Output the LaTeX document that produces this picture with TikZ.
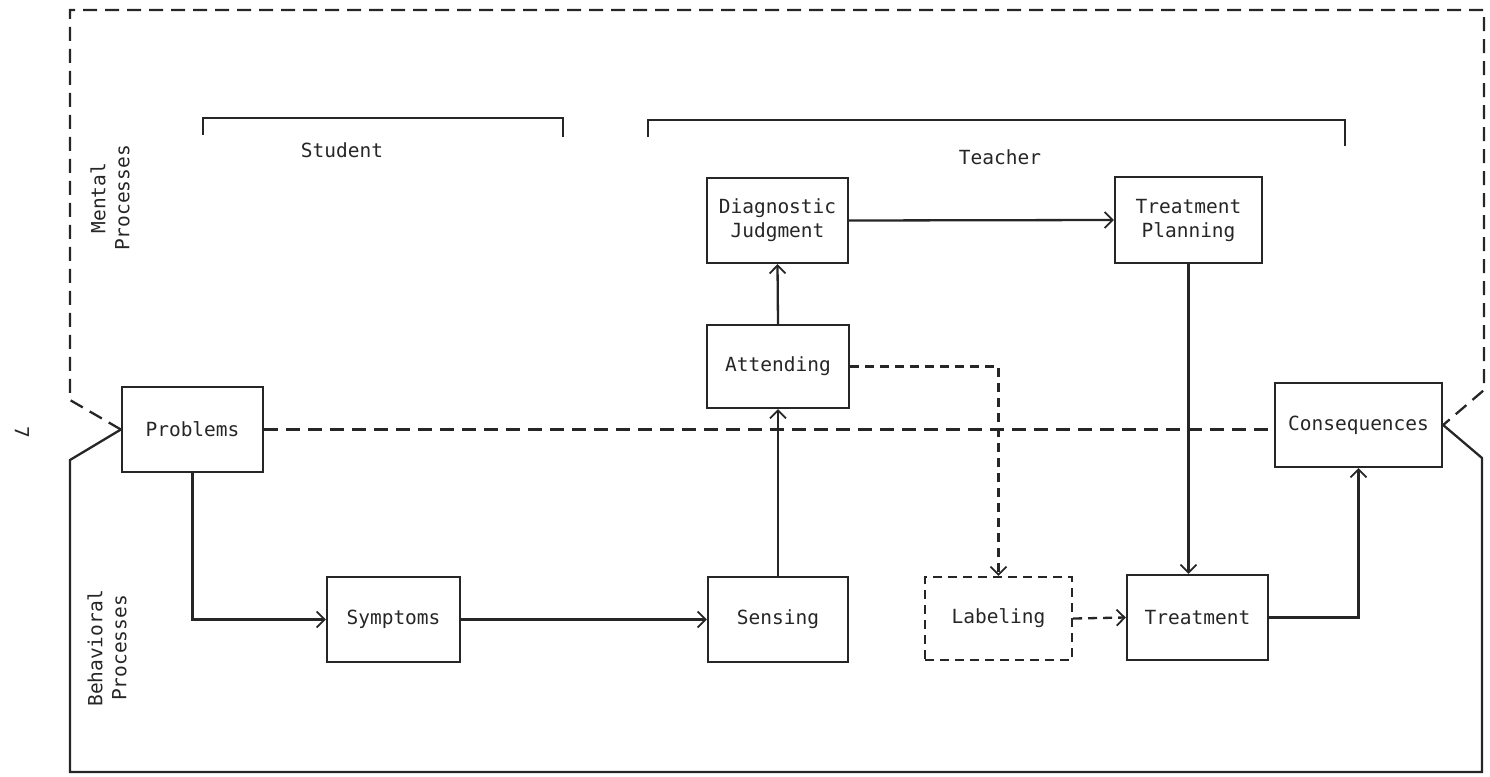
\documentclass[tikz,border=0pt]{standalone}
\usepackage{fontspec}
\setmonofont{DejaVu Sans Mono}
\usetikzlibrary{arrows.meta}
\definecolor{ink}{HTML}{262626}
\tikzset{
  every node/.style={font=\ttfamily\fontsize{19.5}{24}\selectfont, text=ink},
  ln/.style={draw=ink, line width=2.3pt},
  dsh/.style={ln, dash pattern=on 14pt off 8pt},
  dshs/.style={ln, dash pattern=on 9pt off 6pt},
  arr/.style={-{Straight Barb[length=8pt,width=16pt,line width=1.8pt]}},
  box/.style={ln, rectangle, inner sep=0pt, align=center},
  dbox/.style={box, dshs},
  lab/.style={align=center}
}
\begin{document}
\begin{tikzpicture}[x=1pt, y=-1pt]
\useasboundingbox (0,0) rectangle (1490,776);
% boxes
\node[box, minimum width=141pt, minimum height=85pt] (P) at (192.5,429.5) {Problems};
\node[box, minimum width=167pt, minimum height=84pt] (C) at (1358.5,425) {Consequences};
\node[box, minimum width=141pt, minimum height=85pt] (DJ) at (777.5,220.5) {Diagnostic\\Judgment};
\node[box, minimum width=147pt, minimum height=86pt] (TP) at (1188.5,220) {Treatment\\Planning};
\node[box, minimum width=142pt, minimum height=83pt] (A) at (778,366.5) {Attending};
\node[box, minimum width=133pt, minimum height=85pt] (Sy) at (393.5,619.5) {Symptoms};
\node[box, minimum width=140pt, minimum height=85pt] (Se) at (778,619.5) {Sensing};
\node[dbox, minimum width=147pt, minimum height=83pt] (L) at (998.5,618.5) {Labeling};
\node[box, minimum width=141pt, minimum height=85pt] (T) at (1197.5,617.5) {Treatment};

% outer frames
\draw[dsh] (P.west) -- (70,400) -- (70,10) -- (1484,10) -- (1484,390) -- (C.east);
\draw[ln] (P.west) -- (70,460) -- (70,772) -- (1482,772) -- (1482,458) -- (C.east);

% brackets
\draw[ln] (203,135) -- (203,118) -- (563,118) -- (563,137);
\draw[ln] (648,137) -- (648,120) -- (1345,120) -- (1345,146);

% labels
\node[lab] (stu) at (342,150) {Student};
\node[lab] (tea) at (1000,157) {Teacher};
\node[lab, rotate=90] (men) at (110,198) {Mental\\Processes};
\node[lab, rotate=90] (beh) at (107,648) {Behavioral\\Processes};
\node[lab, rotate=-90] (pg) at (22,432) {7};

% connectors
\draw[ln, arr] (P.south) |- (Sy.west);
\draw[ln, arr] (Sy.east) -- (Se.west);
\draw[ln, arr] (Se.north) -- (A.south);
\draw[ln, arr] (A.north) -- (DJ.south);
\draw[ln, arr] (DJ.east) -- (TP.west);
\draw[ln, arr] (TP.south) -- (TP.south |- T.north);
\draw[ln, arr] (T.east) -| (C.south);
\draw[dshs, arr] (A.east) -| (L.north);
\draw[dshs, arr] (L.east) -- (T.west);
\draw[dsh] (P.east) -- (P.east -| C.west);
\end{tikzpicture}
\end{document}
